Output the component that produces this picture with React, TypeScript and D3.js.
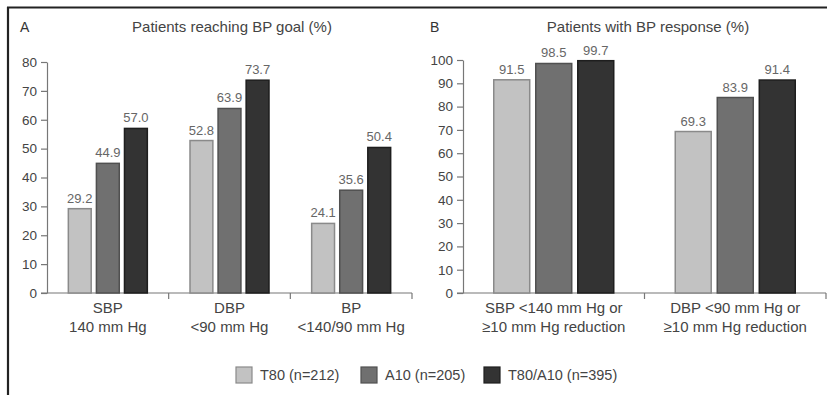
import * as d3 from "d3";
import React from "react";

const seriesNames = ["T80 (n=212)", "A10 (n=205)", "T80/A10 (n=395)"];
const seriesFill = ["#c2c2c2", "#707070", "#333333"];
const seriesStroke = ["#8a8a8a", "#505050", "#1e1e1e"];

const goalCategories = [
  ["SBP", "140 mm Hg"],
  ["DBP", "<90 mm Hg"],
  ["BP", "<140/90 mm Hg"],
];
const goalT80 = [29.2, 52.8, 24.1];
const goalA10 = [44.9, 63.9, 35.6];
const goalCombo = [57.0, 73.7, 50.4];
const goalTicks = [0, 10, 20, 30, 40, 50, 60, 70, 80];

const respCategories = [
  ["SBP <140 mm Hg or", "\u226510 mm Hg reduction"],
  ["DBP <90 mm Hg or", "\u226510 mm Hg reduction"],
];
const respT80 = [91.5, 69.3];
const respA10 = [98.5, 83.9];
const respCombo = [99.7, 91.4];
const respTicks = [0, 10, 20, 30, 40, 50, 60, 70, 80, 90, 100];

const W = 827;
const H = 395;
const FONT = "'Liberation Sans', Arial, Helvetica, sans-serif";

type Panel = {
  letter: string;
  letterX: number;
  title: string;
  titleX: number;
  cats: string[][];
  values: number[][];
  ticks: number[];
  max: number;
  x0: number;
  x1: number;
  yTop: number;
  groupW: number;
  inner: number;
};

const drawPanel = (svg: d3.Selection<SVGSVGElement, unknown, null, undefined>, p: Panel) => {
  const yBottom = 293;
  const y = d3.scaleLinear().domain([0, p.max]).range([yBottom, p.yTop]);
  const x = d3
    .scaleBand<number>()
    .domain(d3.range(p.cats.length))
    .range([p.x0, p.x1])
    .padding(0);

  const g = svg.append("g");

  g.append("text")
    .attr("x", p.letterX)
    .attr("y", 32)
    .attr("font-size", 14)
    .attr("fill", "#333")
    .text(p.letter);
  g.append("text")
    .attr("x", p.titleX)
    .attr("y", 32)
    .attr("text-anchor", "middle")
    .attr("font-size", 15)
    .attr("fill", "#444")
    .text(p.title);

  // y axis
  const yAxis = d3.axisLeft<number>(y).tickValues(p.ticks).tickSize(6).tickPadding(4).tickSizeOuter(0);
  const ya = g.append("g").attr("transform", `translate(${p.x0},0)`).call(yAxis as any);
  ya.select(".domain").attr("stroke", "#777").attr("stroke-width", 1.2);
  ya.selectAll(".tick line").attr("stroke", "#777").attr("stroke-width", 1.2);
  ya.selectAll(".tick text")
    .attr("font-family", FONT)
    .attr("font-size", 13.5)
    .attr("fill", "#444");

  // x axis line with boundary ticks
  g.append("line")
    .attr("x1", p.x0 - 6)
    .attr("x2", p.x1)
    .attr("y1", yBottom)
    .attr("y2", yBottom)
    .attr("stroke", "#777")
    .attr("stroke-width", 1.2);
  g.selectAll(".xtick")
    .data(d3.range(1, p.cats.length + 1))
    .enter()
    .append("line")
    .attr("x1", (i) => p.x0 + i * x.step())
    .attr("x2", (i) => p.x0 + i * x.step())
    .attr("y1", yBottom)
    .attr("y2", yBottom + 6)
    .attr("stroke", "#777")
    .attr("stroke-width", 1.2);

  p.cats.forEach((lines, ci) => {
    const cx = (x(ci) ?? 0) + x.bandwidth() / 2;
    lines.forEach((t, li) => {
      g.append("text")
        .attr("x", cx)
        .attr("y", 313 + li * 19)
        .attr("text-anchor", "middle")
        .attr("font-size", 15)
        .attr("fill", "#444")
        .text(t);
    });

    const inner = d3
      .scaleBand<number>()
      .domain(d3.range(3))
      .range([cx - p.groupW / 2, cx + p.groupW / 2])
      .paddingInner(p.inner)
      .paddingOuter(0);

    p.values.forEach((vals, si) => {
      const v = vals[ci];
      const bx = inner(si) ?? 0;
      g.append("rect")
        .attr("x", bx + 0.5)
        .attr("y", y(v))
        .attr("width", inner.bandwidth() - 1)
        .attr("height", yBottom - y(v))
        .attr("fill", seriesFill[si])
        .attr("stroke", seriesStroke[si])
        .attr("stroke-width", 1.5);
      g.append("text")
        .attr("x", bx + inner.bandwidth() / 2)
        .attr("y", y(v) - 6)
        .attr("text-anchor", "middle")
        .attr("font-size", 13)
        .attr("fill", "#666")
        .text(v.toFixed(1));
    });
  });
};

export default function App() {
  const svgRef = React.useRef<SVGSVGElement>(null);

  React.useEffect(() => {
    if (!svgRef.current) return;
    const svg = d3.select(svgRef.current);
    svg.selectAll("*").remove();

    svg.append("rect").attr("width", W).attr("height", H).attr("fill", "#fff");

    // frame (top and left edges)
    svg.append("line").attr("x1", 7).attr("x2", W).attr("y1", 7.5).attr("y2", 7.5).attr("stroke", "#222").attr("stroke-width", 2.2);
    svg.append("line").attr("x1", 8).attr("x2", 8).attr("y1", 7).attr("y2", H).attr("stroke", "#222").attr("stroke-width", 2.2);

    drawPanel(svg, {
      letter: "A",
      letterX: 20,
      title: "Patients reaching BP goal (%)",
      titleX: 232,
      cats: goalCategories,
      values: [goalT80, goalA10, goalCombo],
      ticks: goalTicks,
      max: 80,
      x0: 47,
      x1: 412,
      yTop: 62,
      groupW: 80,
      inner: 0.15,
    });

    drawPanel(svg, {
      letter: "B",
      letterX: 430,
      title: "Patients with BP response (%)",
      titleX: 648,
      cats: respCategories,
      values: [respT80, respA10, respCombo],
      ticks: respTicks,
      max: 100,
      x0: 463,
      x1: 826,
      yTop: 60,
      groupW: 121,
      inner: 0.12,
    });

    // legend
    const legendX = [236, 361, 484];
    const lg = svg.append("g");
    seriesNames.forEach((name, i) => {
      lg.append("rect")
        .attr("x", legendX[i])
        .attr("y", 367)
        .attr("width", 16)
        .attr("height", 16)
        .attr("fill", seriesFill[i])
        .attr("stroke", seriesStroke[i])
        .attr("stroke-width", 1.2);
      lg.append("text")
        .attr("x", legendX[i] + 24)
        .attr("y", 380)
        .attr("font-size", 14.5)
        .attr("fill", "#444")
        .text(name);
    });
  }, []);

  return (
    <div style={{ position: "absolute", left: 0, top: 0 }}>
      <svg ref={svgRef} width={W} height={H} fontFamily={FONT} style={{ display: "block" }} />
    </div>
  );
}
